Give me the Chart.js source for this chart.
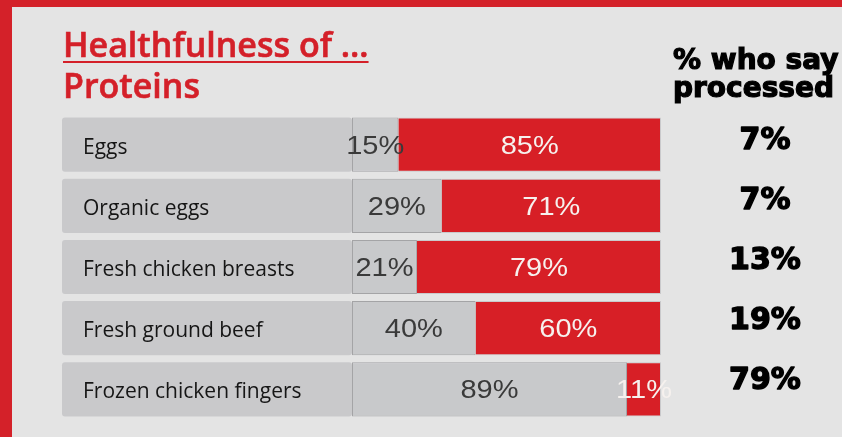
<!DOCTYPE html>
<html>
<head>
<meta charset="utf-8">
<script src="https://cdn.jsdelivr.net/npm/chart.js@4.4.1/dist/chart.umd.min.js"></script>
<style>
  html, body { margin: 0; padding: 0; background: #e4e4e4; overflow: hidden; }
  #wrap { position: relative; width: 842px; height: 437px; }
  #title {
    position: absolute; left: 63px; top: 24px;
    font: 600 34px "Open Sans", sans-serif; line-height: 41px; color: #d42029;
    -webkit-text-stroke: 0.6px #d42029;
    white-space: nowrap;
  }
  #title .u { text-decoration: underline; text-decoration-thickness: 2px; text-underline-offset: 4px; }
  #header {
    position: absolute; left: 673px; top: 46px;
    font: 700 28px "DejaVu Sans", sans-serif; line-height: 28px; color: #000;
    -webkit-text-stroke: 1.2px #000;
    white-space: nowrap;
  }
</style>
</head>
<body>
<div id="wrap">
  <canvas id="myChart" width="842" height="437"></canvas>
  <div id="title"><span class="u">Healthfulness of …</span><br>Proteins</div>
  <div id="header">% who say<br>processed</div>
</div>
<script>
const categories = ['Eggs', 'Organic eggs', 'Fresh chicken breasts', 'Fresh ground beef', 'Frozen chicken fingers'];
const unhealthyValues = [15, 29, 21, 40, 89];
const healthyValues = [85, 71, 79, 60, 11];
const processedValues = [7, 7, 13, 19, 79];

const ctx = document.getElementById('myChart').getContext('2d');

// text drawn a bit wider, like the source artwork
function wideText(c, text, x, y, sx) {
  c.save();
  c.translate(x, y);
  c.scale(sx, 1);
  c.fillText(text, 0, 0);
  c.restore();
}

// background and red frame
const framePlugin = {
  id: 'frame',
  beforeDraw(chart) {
    const c = chart.ctx;
    c.save();
    c.fillStyle = '#e4e4e4';
    c.fillRect(0, 0, chart.width, chart.height);
    c.fillStyle = '#d42129';
    c.fillRect(0, 0, chart.width, 7);
    c.fillRect(0, 0, 12, chart.height);
    c.restore();
  }
};

// grey label boxes with category names
const labelBoxes = {
  id: 'labelBoxes',
  beforeDatasetsDraw(chart) {
    const c = chart.ctx;
    const meta = chart.getDatasetMeta(0);
    c.save();
    meta.data.forEach((bar, i) => {
      const top = bar.y - bar.height / 2;
      c.fillStyle = '#c9c9cb';
      c.beginPath();
      c.roundRect(62, top, chart.chartArea.left - 62, bar.height, 3);
      c.fill();
      c.fillStyle = '#161616';
      c.font = '21px "Open Sans", sans-serif';
      c.textBaseline = 'alphabetic';
      c.textAlign = 'left';
      c.fillText(categories[i], 83, bar.y + 9);
    });
    c.restore();
  }
};

// percent labels inside segments + processed column
const valueLabels = {
  id: 'valueLabels',
  afterDatasetsDraw(chart) {
    const c = chart.ctx;
    c.save();
    c.textBaseline = 'alphabetic';
    c.textAlign = 'center';
    c.font = '25px "Liberation Sans", Arial, sans-serif';
    chart.data.datasets.forEach((ds, d) => {
      chart.getDatasetMeta(d).data.forEach((bar, i) => {
        c.fillStyle = d === 0 ? '#3a3a3a' : '#f6f1ee';
        wideText(c, ds.data[i] + '%', (bar.base + bar.x) / 2, bar.y + 9, 1.16);
      });
    });
    c.font = '700 30px "DejaVu Sans", sans-serif';
    c.fillStyle = '#000';
    c.strokeStyle = '#000';
    c.lineWidth = 1.4;
    c.lineJoin = 'round';
    chart.getDatasetMeta(0).data.forEach((bar, i) => {
      const y = bar.y + 4 - i * 1.2;
      c.fillText(processedValues[i] + '%', 765, y);
      c.strokeText(processedValues[i] + '%', 765, y);
    });
    c.restore();
  }
};

const chart = new Chart(ctx, {
  type: 'bar',
  data: {
    labels: categories,
    datasets: [{
      label: 'Unhealthy',
      data: unhealthyValues,
      backgroundColor: '#c8c9cb',
      borderColor: '#a4a4a6',
      borderWidth: 1,
      borderSkipped: false
    }, {
      label: 'Healthy',
      data: healthyValues,
      backgroundColor: '#d71f26',
      borderColor: '#c9c9cb',
      borderWidth: { top: 1, bottom: 1, right: 1, left: 0 },
      borderSkipped: false
    }]
  },
  options: {
    indexAxis: 'y',
    responsive: false,
    animation: false,
    layout: { padding: { left: 352, right: 181, top: 114, bottom: 17 } },
    datasets: { bar: { categoryPercentage: 1, barPercentage: 0.885 } },
    scales: {
      x: { stacked: true, min: 0, max: 100, display: false },
      y: { stacked: true, display: false }
    },
    plugins: { legend: { display: false }, tooltip: { enabled: false } }
  },
  plugins: [framePlugin, labelBoxes, valueLabels]
});
</script>
</body>
</html>
